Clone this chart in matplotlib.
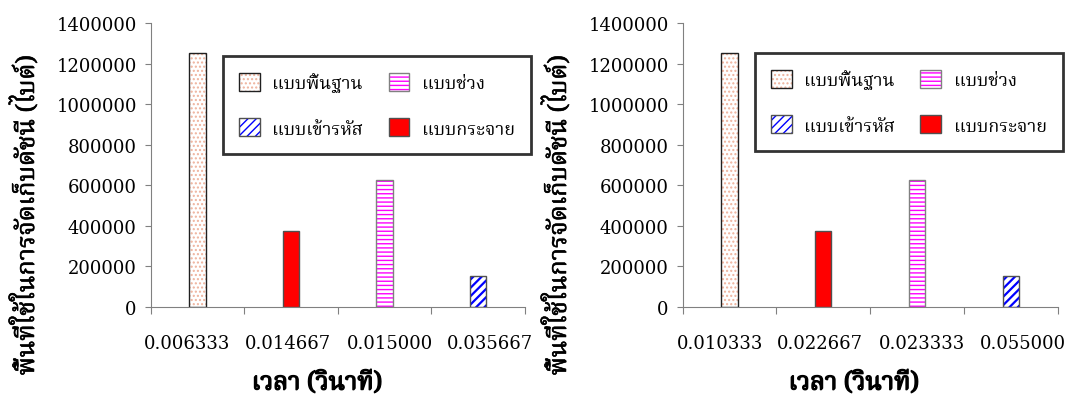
import numpy as np
import matplotlib
matplotlib.use('Agg')
import matplotlib.pyplot as plt
import matplotlib.patheffects as pe
from matplotlib import font_manager
from matplotlib.ft2font import FT2Font
from matplotlib.legend_handler import HandlerTuple
from matplotlib.transforms import ScaledTranslation

# ---- data ----
series_names = ['แบบพื้นฐาน', 'แบบช่วง', 'แบบเข้ารหัส', 'แบบกระจาย']
# one bar per category, each from a different series
bar_series = ['แบบพื้นฐาน', 'แบบกระจาย', 'แบบช่วง', 'แบบเข้ารหัส']
bar_values = [1250000, 375000, 625000, 150000]
labels_left = ['0.006333', '0.014667', '0.015000', '0.035667']
labels_right = ['0.010333', '0.022667', '0.023333', '0.055000']
yticks = [0, 200000, 400000, 600000, 800000, 1000000, 1200000, 1400000]
xlabel = 'เวลา (วินาที)'
ylabel = 'พื้นที่ใช้ในการจัดเก็บดัชนี (ไบต์)'

# find a font that has thai glyphs (prefer serif looped ones)
found = []
for f in font_manager.fontManager.ttflist:
    try:
        if 0x0E01 in FT2Font(f.fname).get_charmap():
            found.append(f.name)
    except Exception:
        pass
thai_font = None
for pref in ['Norasi', 'Kinnari', 'TH Sarabun New', 'Laksaman', 'Noto Serif Thai',
             'Garuda', 'Loma', 'Noto Sans Thai']:
    if pref in found:
        thai_font = pref
        break
if thai_font is None and found:
    thai_font = found[0]
thai_family = [thai_font, 'DejaVu Sans'] if thai_font else ['DejaVu Sans']

styles = {
    'แบบพื้นฐาน': dict(face='white', hatch='....', hcol='#eeb29c', edge='#202020', hlw=1.0),
    'แบบช่วง': dict(face='white', hatch='----', hcol='#ff00ff', edge='#808080', hlw=1.0),
    'แบบเข้ารหัส': dict(face='white', hatch='////', hcol='#0000ff', edge='#505050', hlw=1.6),
    'แบบกระจาย': dict(face='#ff0000', hatch=None, hcol='#ff0000', edge='#505050', hlw=1.0),
}
label_dx = [-10, -3, 5, 12]        # px shift of the category labels

W, H = 1077, 406
fig = plt.figure(figsize=(W / 100, H / 100), dpi=100)
top_px, bot_px = 24, 307.7


def draw(left_px, right_px, xlabels, xlab_fx, leg_box):
    ax = fig.add_axes([left_px / W, 1 - bot_px / H, (right_px - left_px) / W, (bot_px - top_px) / H])
    x = np.arange(len(bar_values))
    handles = {}
    for i in range(len(bar_values)):
        st = styles[bar_series[i]]
        h1 = ax.bar(x[i], bar_values[i], 0.174, color=st['face'], hatch=st['hatch'],
                    edgecolor=st['hcol'], linewidth=0)
        if hasattr(h1[0], 'set_hatch_linewidth'):
            h1[0].set_hatch_linewidth(st['hlw'])
        h2 = ax.bar(x[i], bar_values[i], 0.174, fill=False, edgecolor=st['edge'], linewidth=1.0)
        handles[bar_series[i]] = (h1[0], h2[0])
    ax.set_xlim(-0.5, 3.5)
    ax.set_ylim(0, 1400000)
    ax.set_yticks(yticks)
    ax.set_yticklabels([str(v) for v in yticks], family='DejaVu Serif', fontsize=13)
    ax.set_xticks([-0.5, 0.5, 1.5, 2.5, 3.5])
    ax.set_xticklabels([])
    ax.tick_params(axis='x', length=5, color='#808080')
    ax.tick_params(axis='y', length=4, color='#808080', pad=6)
    for i in range(len(xlabels)):
        tr = ax.get_xaxis_transform() + ScaledTranslation(label_dx[i] / 100, 0, fig.dpi_scale_trans)
        ax.text(x[i], -0.128, xlabels[i], transform=tr, ha='center', va='center',
                family='DejaVu Serif', fontsize=13)
    for s in ['top', 'right']:
        ax.spines[s].set_visible(False)
    for s in ['left', 'bottom']:
        ax.spines[s].set_color('#808080')
    xl = ax.set_xlabel(xlabel, family=thai_family, fontsize=18, fontweight='bold')
    xl.set_path_effects([pe.withStroke(linewidth=1.0, foreground='black')])
    ax.xaxis.set_label_coords(xlab_fx, -0.225)
    yl = ax.set_ylabel(ylabel, family=thai_family, fontsize=18)
    yl.set_path_effects([pe.withStroke(linewidth=0.4, foreground='black')])
    ax.yaxis.set_label_coords(-110.7 / (right_px - left_px), 0.323)

    order = ['แบบพื้นฐาน', 'แบบเข้ารหัส', 'แบบช่วง', 'แบบกระจาย']
    leg = ax.legend([handles[n] for n in order], order, ncol=2,
                    handler_map={tuple: HandlerTuple(ndivide=1)},
                    prop={'family': thai_family, 'size': 13},
                    loc='center', bbox_to_anchor=leg_box, bbox_transform=fig.transFigure,
                    fancybox=False, shadow=False, frameon=True, edgecolor='black',
                    handlelength=1.15, handleheight=1.15, handletextpad=0.7,
                    columnspacing=1.4, labelspacing=1.45, borderpad=0.9)
    leg.get_frame().set_linewidth(2.0)
    return ax


draw(150.7, 525, labels_left, 0.444,
     (224 / W, 1 - 158 / H, (530 - 224) / W, (158 - 54) / H))
draw(682.7, 1057.7, labels_right, 0.456,
     (756.7 / W, 1 - 154 / H, (1060.7 - 756.7) / W, (154 - 52) / H))

fig.savefig('out.png', dpi=100)
